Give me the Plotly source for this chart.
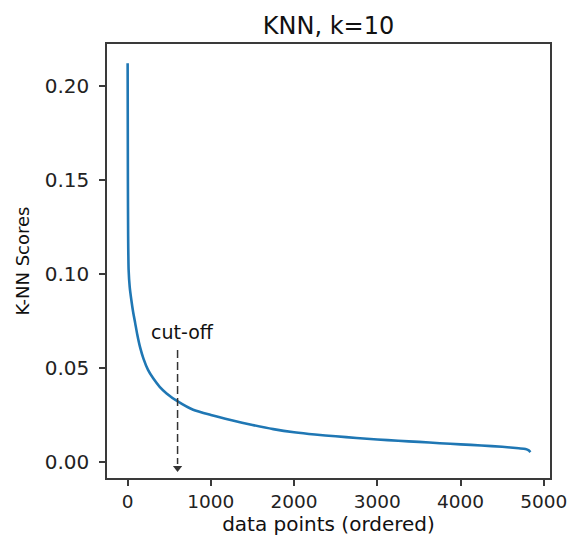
import plotly.graph_objects as go

# data
x_vals = [0, 3, 6, 12, 25, 45, 65, 90, 115, 150, 190, 245, 307, 385, 468, 607, 787,
          1000, 1250, 1500, 1750, 2000, 2250, 2500, 2750, 3000, 3250, 3500, 3750,
          4000, 4250, 4500, 4700, 4780, 4820, 4840]
y_vals = [0.212, 0.15, 0.12, 0.102, 0.093, 0.086, 0.080, 0.074, 0.068, 0.061, 0.055,
          0.049, 0.0445, 0.040, 0.0365, 0.0321, 0.0278,
          0.0250, 0.0222, 0.0197, 0.0175, 0.0158, 0.0146, 0.0137, 0.0128, 0.0120,
          0.0113, 0.0107, 0.0100, 0.0094, 0.0088, 0.0081, 0.0073, 0.0069, 0.0062, 0.0053]
cutoff_x = 600
cutoff_label = "cut-off"
x_ticks = [0, 1000, 2000, 3000, 4000, 5000]
y_ticks = [0.00, 0.05, 0.10, 0.15, 0.20]

FONT = "DejaVu Sans"
frame = "#3a3a3a"

fig = go.Figure()
fig.add_trace(go.Scatter(x=x_vals, y=y_vals, mode="lines", line_shape="spline",
                         line=dict(color="#1f77b4", width=2.6, smoothing=0.6),
                         showlegend=False, hoverinfo="skip"))
# cut-off dashed arrow
fig.add_shape(type="line", x0=cutoff_x, x1=cutoff_x, y0=0.0596, y1=-0.001,
              line=dict(color="#333333", width=1.5, dash="8px,4px"))
fig.add_trace(go.Scatter(x=[cutoff_x], y=[-0.0032], mode="markers",
                         marker=dict(symbol="triangle-down", size=8, color="#333333"),
                         showlegend=False, hoverinfo="skip"))
fig.add_annotation(x=cutoff_x + 60, y=0.0693, text=cutoff_label, showarrow=False,
                   font=dict(family=FONT, size=19, color="#111111"))

fig.update_layout(
    width=568, height=539,
    margin=dict(l=107, r=18, t=44, b=61),
    paper_bgcolor="white", plot_bgcolor="white",
    title=dict(text="KNN, k=10", x=0.5, xref="paper", xanchor="center",
               y=1 - 25.5 / 539, yref="container", yanchor="middle",
               font=dict(family=FONT, size=24, color="#111111")),
    font=dict(family=FONT, color="#222222"),
)
fig.update_xaxes(range=[-248, 5075], tickvals=x_ticks, ticktext=[str(t) for t in x_ticks],
                 showgrid=False, zeroline=False, showline=True, mirror=True,
                 linecolor=frame, linewidth=1.5, ticks="outside", ticklen=6,
                 tickwidth=1.5, tickcolor=frame, automargin=False,
                 ticklabeloverflow="allow",
                 tickfont=dict(family=FONT, size=18.5, color="#222222"),
                 title=dict(text="data points (ordered)", standoff=4,
                            font=dict(family=FONT, size=20, color="#111111")))
fig.update_yaxes(range=[-0.0085, 0.2223], tickvals=y_ticks,
                 ticktext=[f"{t:.2f}" for t in y_ticks],
                 showgrid=False, zeroline=False, showline=True, mirror=True,
                 linecolor=frame, linewidth=1.5, ticks="outside", ticklen=6,
                 tickwidth=1.5, tickcolor=frame, automargin=False,
                 ticklabelstandoff=6,
                 tickfont=dict(family=FONT, size=20, color="#222222"),
                 title=dict(text="K-NN Scores", standoff=10,
                            font=dict(family=FONT, size=18, color="#111111")))

fig.write_html("out.html", config={"displayModeBar": False},
               post_script="document.body.style.margin='0';document.body.style.overflow='hidden';")
